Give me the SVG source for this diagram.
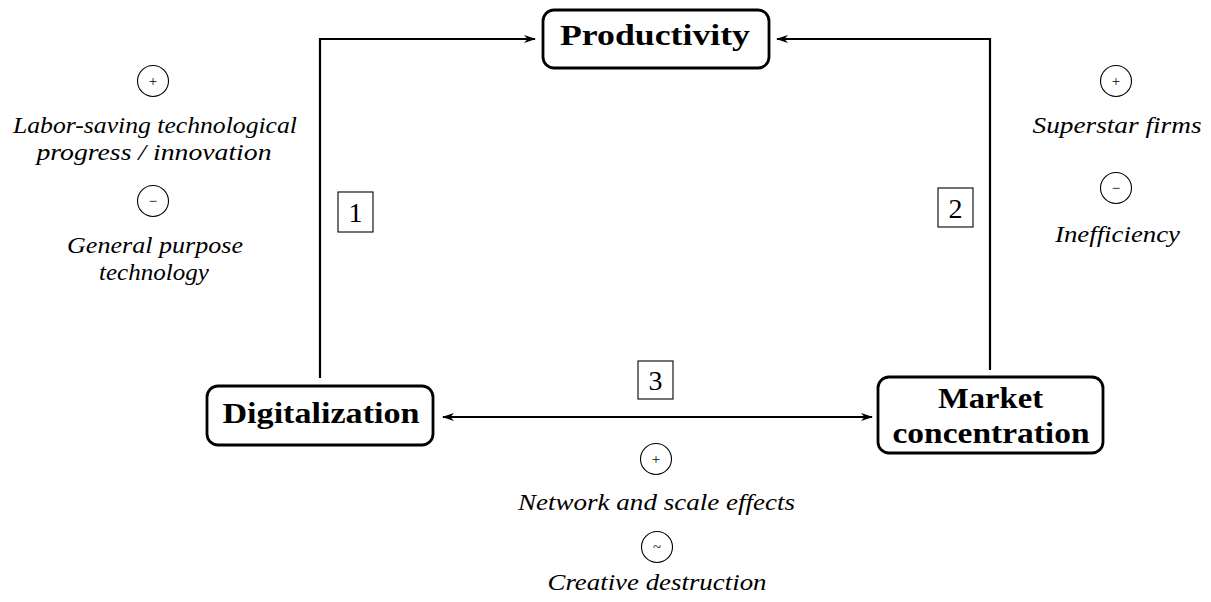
<svg xmlns="http://www.w3.org/2000/svg" width="1211" height="602" viewBox="0 0 1211 602">
<defs>
<marker id="ah" viewBox="0 0 12 10" refX="11" refY="5" markerWidth="12" markerHeight="10" markerUnits="userSpaceOnUse" orient="auto-start-reverse">
<path d="M0,1 L12,5 L0,9 L3.5,5 Z" fill="#000"/>
</marker>
<style>
.node{fill:#fff;stroke:#000;stroke-width:2.8}
.conn{fill:none;stroke:#000;stroke-width:2.2}
.num{fill:#fff;stroke:#000;stroke-width:1.1}
.sign{fill:#fff;stroke:#000;stroke-width:1.1}
</style>
</defs>
<rect width="1211" height="602" fill="#fff"/>
<g id="connectors">
<path class="conn" d="M320,378 V39 H535" marker-end="url(#ah)"/>
<path class="conn" d="M990,370 V39 H777" marker-end="url(#ah)"/>
<path class="conn" d="M443,417 H872" marker-start="url(#ah)" marker-end="url(#ah)"/>
</g>
<g id="productivity">
<rect class="node" x="543" y="10" width="226" height="58" rx="11"/>
<text font-family="Liberation Serif" font-weight="bold" font-size="30" text-anchor="middle" x="655" y="45" textLength="190" lengthAdjust="spacingAndGlyphs">Productivity</text>
</g>
<g id="digitalization">
<rect class="node" x="207" y="386" width="226" height="59" rx="11"/>
<text font-family="Liberation Serif" font-weight="bold" font-size="30" text-anchor="middle" x="321" y="423" textLength="197" lengthAdjust="spacingAndGlyphs">Digitalization</text>
</g>
<g id="market-concentration">
<rect class="node" x="878" y="377" width="225" height="76" rx="11"/>
<text font-family="Liberation Serif" font-weight="bold" font-size="30" text-anchor="middle" x="990.5" y="408" textLength="105" lengthAdjust="spacingAndGlyphs">Market</text>
<text font-family="Liberation Serif" font-weight="bold" font-size="30" text-anchor="middle" x="991" y="443" textLength="197" lengthAdjust="spacingAndGlyphs">concentration</text>
</g>
<g id="label-1">
<rect class="num" x="338" y="192" width="35" height="40"/>
<text font-family="Liberation Serif" font-size="28" text-anchor="middle" x="355.5" y="222">1</text>
</g>
<g id="label-2">
<rect class="num" x="938" y="188" width="35" height="39"/>
<text font-family="Liberation Serif" font-size="28" text-anchor="middle" x="955.5" y="218">2</text>
</g>
<g id="label-3">
<rect class="num" x="638" y="361" width="35" height="38"/>
<text font-family="Liberation Serif" font-size="28" text-anchor="middle" x="655.5" y="390">3</text>
</g>
<g id="effects-1">
<circle class="sign" cx="153" cy="81" r="15.5"/>
<text font-family="Liberation Serif" font-size="15" text-anchor="middle" x="153" y="86">+</text>
<text font-family="Liberation Serif" font-style="italic" font-size="23" text-anchor="middle" x="155" y="133" textLength="284" lengthAdjust="spacingAndGlyphs">Labor-saving technological</text>
<text font-family="Liberation Serif" font-style="italic" font-size="23" text-anchor="middle" x="154" y="160" textLength="235" lengthAdjust="spacingAndGlyphs">progress / innovation</text>
<circle class="sign" cx="153" cy="201" r="15.5"/>
<text font-family="Liberation Serif" font-size="15" text-anchor="middle" x="153" y="206">−</text>
<text font-family="Liberation Serif" font-style="italic" font-size="23" text-anchor="middle" x="155" y="253" textLength="176" lengthAdjust="spacingAndGlyphs">General purpose</text>
<text font-family="Liberation Serif" font-style="italic" font-size="23" text-anchor="middle" x="154" y="280" textLength="110" lengthAdjust="spacingAndGlyphs">technology</text>
</g>
<g id="effects-2">
<circle class="sign" cx="1116" cy="81" r="15.5"/>
<text font-family="Liberation Serif" font-size="15" text-anchor="middle" x="1116" y="86">+</text>
<text font-family="Liberation Serif" font-style="italic" font-size="23" text-anchor="middle" x="1117" y="133" textLength="169" lengthAdjust="spacingAndGlyphs">Superstar firms</text>
<circle class="sign" cx="1116" cy="188" r="15.5"/>
<text font-family="Liberation Serif" font-size="15" text-anchor="middle" x="1116" y="193">−</text>
<text font-family="Liberation Serif" font-style="italic" font-size="23" text-anchor="middle" x="1117.5" y="242" textLength="125" lengthAdjust="spacingAndGlyphs">Inefficiency</text>
</g>
<g id="effects-3">
<circle class="sign" cx="656" cy="459" r="15.5"/>
<text font-family="Liberation Serif" font-size="15" text-anchor="middle" x="656" y="464">+</text>
<text font-family="Liberation Serif" font-style="italic" font-size="23" text-anchor="middle" x="656.5" y="510" textLength="277" lengthAdjust="spacingAndGlyphs">Network and scale effects</text>
<circle class="sign" cx="657" cy="547" r="15.5"/>
<text font-family="Liberation Serif" font-size="15" text-anchor="middle" x="657" y="552">~</text>
<text font-family="Liberation Serif" font-style="italic" font-size="23" text-anchor="middle" x="657" y="590" textLength="219" lengthAdjust="spacingAndGlyphs">Creative destruction</text>
</g>
</svg>
